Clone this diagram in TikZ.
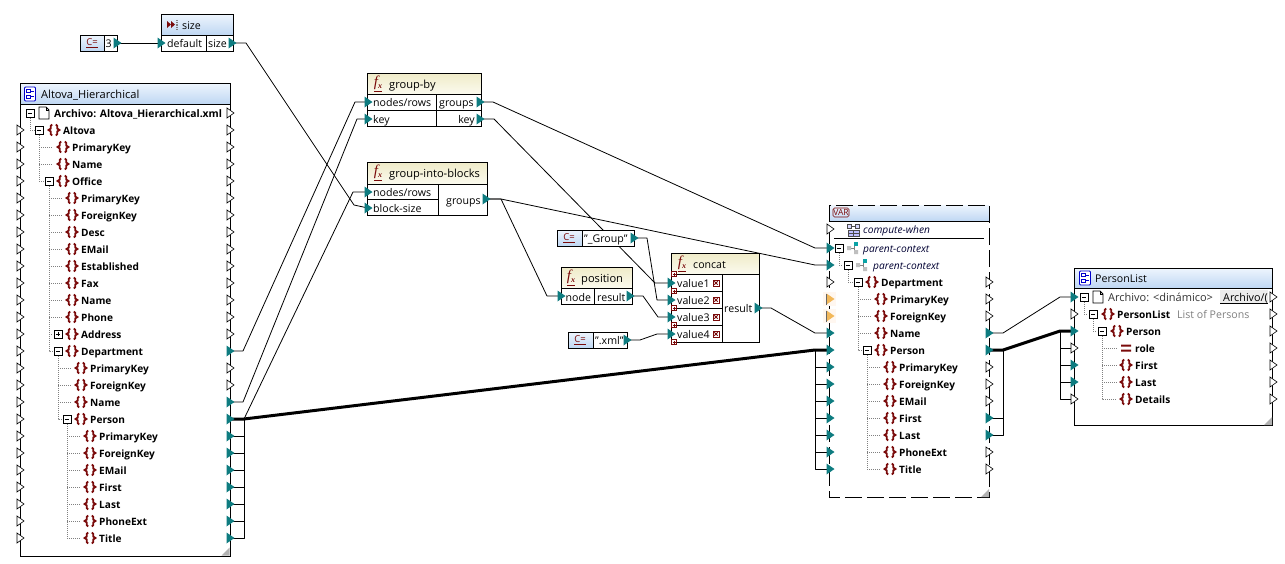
\documentclass[tikz,border=0pt]{standalone}
\usepackage{fontspec}
\setmainfont{Open Sans}
\newfontfamily\iconserif{Liberation Serif}
\definecolor{tealp}{HTML}{0E7C80}
\definecolor{brc}{HTML}{7A0A0A}
\definecolor{orgp}{HTML}{F2B85A}
\definecolor{hblueT}{HTML}{EEF5FD}
\definecolor{hblueB}{HTML}{BFD7F3}
\definecolor{hyelT}{HTML}{EFEBC8}
\definecolor{hyelB}{HTML}{FBFAEE}
\pgfdeclarelayer{back}
\pgfdeclarelayer{bg}
\pgfsetlayers{back,bg,main}
\tikzset{
  wire/.style={line width=0.8pt,black,line join=round},
  thickwire/.style={line width=3pt,black,line join=round},
  treeln/.style={line width=0.6pt,color=gray,dash pattern=on 1pt off 1pt},
  boxn/.style={anchor=north west,inner sep=0pt,outer sep=0pt,line width=1pt,fill=white,draw=black},
  rowb/.style={anchor=base west,inner sep=0pt,font=\fontsize{10.1}{12}\selectfont\bfseries,text=black},
  rowi/.style={anchor=base west,inner sep=0pt,font=\fontsize{10.2}{12}\selectfont\itshape,text=black!80!blue},
  lab/.style={anchor=base west,inner sep=0pt,font=\fontsize{10.6}{12}\selectfont,text=black},
  ttl/.style={anchor=base west,inner sep=0pt,font=\fontsize{11.1}{12}\selectfont,text=black},
  labe/.style={anchor=base east,inner sep=0pt,font=\fontsize{10.6}{12}\selectfont,text=black},
  portn/.style={inner sep=0pt,minimum size=0pt,outer sep=0pt},
  cicon/.style={inner sep=0pt,font=\fontsize{9.5}{10}\selectfont,text=brc},
  fxicon/.style={inner sep=0pt,font=\iconserif\fontsize{15}{15}\selectfont\itshape,text=brc},
}
\newcommand{\fxtext}{\underline{f\raisebox{-1.5pt}{\fontsize{8}{8}\selectfont\bfseries x}}}
\newcommand{\portF}[3]{\node[portn] (#1) at (#2,#3) {};
  \fill[tealp] (#2-3.5,#3-5.5) -- (#2+4.5,#3) -- (#2-3.5,#3+5.5) -- cycle;}
\newcommand{\portW}[3]{\node[portn] (#1) at (#2,#3) {};
  \draw[line width=0.6pt,fill=white] (#2-3,#3-5) -- (#2+4,#3) -- (#2-3,#3+5) -- cycle;}
\newcommand{\portO}[3]{\node[portn] (#1) at (#2,#3) {};
  \fill[orange!6] (#2-7,#3-7) rectangle (#2+6,#3+7);
  \fill[orgp] (#2-3.5,#3-5.5) -- (#2+4.5,#3) -- (#2-3.5,#3+5.5) -- cycle;
  \draw[line width=0.4pt,black!60] (#2-3.5,#3-5.5) -- (#2-3.5,#3+5.5);}
\newcommand{\exbox}[2]{\draw[line width=0.8pt,fill=white] (#1-4,#2-4) rectangle (#1+4,#2+4);
  \draw[line width=0.8pt] (#1-2.2,#2) -- (#1+2.2,#2);}
\newcommand{\plbox}[2]{\exbox{#1}{#2}\draw[line width=0.8pt] (#1,#2-2.2) -- (#1,#2+2.2);}
\newcommand{\brcicon}[2]{\draw[brc,line width=1.8pt,line join=miter]
   (#1-1.8,#2-5.5) -- (#1-3.2,#2-4.2) -- (#1-3.2,#2-1.5) -- (#1-5.4,#2) -- (#1-3.2,#2+1.5) -- (#1-3.2,#2+4.2) -- (#1-1.8,#2+5.5)
   (#1+1.8,#2-5.5) -- (#1+3.2,#2-4.2) -- (#1+3.2,#2-1.5) -- (#1+5.4,#2) -- (#1+3.2,#2+1.5) -- (#1+3.2,#2+4.2) -- (#1+1.8,#2+5.5);}
% element row: name, text x, y, text
\newcommand{\elrow}[4]{\brcicon{#2-9}{#3}\node[rowb] (#1) at (#2,#3+4) {#4};}
\newcommand{\docicon}[2]{\draw[line width=0.8pt,fill=white] (#1-5,#2-6) -- (#1+2,#2-6) -- (#1+5,#2-3) -- (#1+5,#2+6) -- (#1-5,#2+6) -- cycle;
   \draw[line width=0.5pt] (#1+2,#2-6) -- (#1+2,#2-3) -- (#1+5,#2-3);}
\newcommand{\treeicon}[2]{\draw[line width=0.8pt,color=gray] (#1-3,#2) -- (#1+1,#2) (#1+1,#2-4) -- (#1+1,#2+4);
   \fill[gray!50] (#1-6,#2-2) rectangle (#1-2,#2+2) (#1+1,#2+2) rectangle (#1+5,#2+6);
   \fill[tealp!70!cyan] (#1+1,#2-6) rectangle (#1+5,#2-2);}
\newcommand{\cmpicon}[2]{\draw[blue!80!black,line width=0.8pt,fill=white,rounded corners=1pt] (#1-5.5,#2-7) rectangle (#1+5.5,#2+7);
   \draw[blue!80!black,line width=0.8pt] (#1-3.5,#2-4.5) rectangle (#1,#2-1.5) (#1-3.5,#2+1) rectangle (#1,#2+4) (#1,#2-3) -- (#1+3.5,#2-3) (#1,#2+2.5) -- (#1+3.5,#2+2.5);}
\newcommand{\grip}[2]{\fill[gray!60] (#1,#2) -- (#1-8,#2) -- (#1,#2-8) -- cycle;}
\newcommand{\addicon}[2]{\draw[brc,line width=0.6pt,fill=white] (#1-2.6,#2-2.6) rectangle (#1+2.6,#2+2.6);
   \draw[brc,line width=0.6pt] (#1-1.5,#2) -- (#1+1.5,#2) (#1,#2-1.5) -- (#1,#2+1.5);}
\newcommand{\delicon}[2]{\draw[brc,line width=0.6pt,fill=white] (#1-3.2,#2-3.2) rectangle (#1+3.2,#2+3.2);
   \draw[brc,line width=0.9pt] (#1-1.7,#2-1.7) -- (#1+1.7,#2+1.7) (#1+1.7,#2-1.7) -- (#1-1.7,#2+1.7);}
% box: name,x1,y1,x2,y2
\newcommand{\cmpbox}[5]{\node[boxn,minimum width={#4-#2},minimum height={#5-#3}] (#1) at (#2,#3) {};}
\newcommand{\hdrfill}[6]{\shade[top color=#6T,bottom color=#6B] (#1,#2) rectangle (#3,#4);
  \draw[line width=1pt] (#1,#4) -- (#3,#4); \draw[line width=1pt] (#5.north west) rectangle (#5.south east);}
\begin{document}
\begin{tikzpicture}[x=1pt,y=-1pt]
\useasboundingbox (0,0) rectangle (1285,563);
\begin{pgfonlayer}{back}
\fill[white] (0,0) rectangle (1285,563);
\end{pgfonlayer}

%---------- const 3
\cmpbox{cthree}{80}{35}{117}{51}
\hdrfill{80}{35}{104}{51}{cthree}{hblue}
\draw[line width=1pt] (104,35) -- (104,51);
\node[cicon] (cthreei) at (92,43) {\underline{C=}};
\node[lab] (cthreet) at (105.5,47.5) {3};
\portF{pthree}{117}{43}

%---------- size
\cmpbox{sizeb}{161}{14}{233}{51}
\hdrfill{161}{14}{233}{35}{sizeb}{hblue}
\draw[line width=1pt] (206,35) -- (206,51);
\fill[brc] (167,21) -- (171,24.5) -- (167,28) -- cycle (171,21) -- (175,24.5) -- (171,28) -- cycle;
\draw[gray,line width=1.6pt,dash pattern=on 1pt off 0.8pt] (177,20) -- (177,30);
\node[lab] (sizet) at (182,29) {size};
\node[lab] (sized) at (167,47.5) {default};
\node[lab] (sizes) at (208,47.5) {size};
\portF{pdef}{161}{43}
\portF{psize}{232}{43}

%---------- source
\cmpbox{src}{20}{83}{230}{556}
\hdrfill{20}{83}{230}{104}{src}{hblue}
\cmpicon{30}{94}
\node[ttl] (srct) at (41,98) {Altova\_Hierarchical};
\draw[treeln] (30,118)--(30,130)--(35,130) (39,135)--(39,181)--(44,181) (39,147)--(53,147) (39,164)--(53,164)
  (49,186)--(49,351)--(53,351) (58,356)--(58,419)--(62,419) (67,424)--(67,538)--(80,538);
\foreach \y in {198,215,232,249,266,283,300,317} {\draw[treeln] (49,\y)--(62,\y);}
\draw[treeln] (49,334)--(53,334);
\foreach \y in {368,385,402} {\draw[treeln] (58,\y)--(71,\y);}
\foreach \y in {436,453,470,487,504,521} {\draw[treeln] (67,\y)--(80,\y);}
\exbox{30}{113}\docicon{44}{113}
\node[rowb,font=\fontsize{10.35}{12}\selectfont\bfseries] (sarch) at (54,117) {Archivo: Altova\_Hierarchical.xml};
\exbox{39}{130}\elrow{sa}{63}{130}{Altova}
\elrow{sb}{72}{147}{PrimaryKey}
\elrow{sc}{72}{164}{Name}
\exbox{49}{181}\elrow{sd}{72}{181}{Office}
\elrow{se}{81}{198}{PrimaryKey}
\elrow{sf}{81}{215}{ForeignKey}
\elrow{sg}{81}{232}{Desc}
\elrow{sh}{81}{249}{EMail}
\elrow{si}{81}{266}{Established}
\elrow{sj}{81}{283}{Fax}
\elrow{sk}{81}{300}{Name}
\elrow{sl}{81}{317}{Phone}
\plbox{58}{334}\elrow{sm}{81}{334}{Address}
\exbox{58}{351}\elrow{sn}{81}{351}{Department}
\elrow{so}{90}{368}{PrimaryKey}
\elrow{sp}{90}{385}{ForeignKey}
\elrow{sq}{90}{402}{Name}
\exbox{67}{419}\elrow{sr}{90}{419}{Person}
\elrow{ss}{99}{436}{PrimaryKey}
\elrow{st}{99}{453}{ForeignKey}
\elrow{su}{99}{470}{EMail}
\elrow{sv}{99}{487}{First}
\elrow{sw}{99}{504}{Last}
\elrow{sx}{99}{521}{PhoneExt}
\elrow{sy}{99}{538}{Title}
\grip{229.5}{555.5}
\foreach \y in {130,147,...,538} {\portW{sl\y}{20}{\y}}
\foreach \y in {113,130,...,334,368,385} {\portW{sr\y}{230}{\y}}
\foreach \y in {351,402,419,436,453,470,487,504,521,538} {\portF{sr\y}{230}{\y}}

%---------- group-by
\cmpbox{gb}{367}{73}{481}{126}
\hdrfill{367}{73}{481}{94}{gb}{hyel}
\draw[line width=1pt] (367,110) -- (481,110) (436,94) -- (436,126);
\node[fxicon] (gbi) at (378,84) {\fxtext};
\node[ttl] (gbt) at (389,88) {group-by};
\node[lab] (gbn) at (373,106.5) {nodes/rows};
\node[lab] (gbk) at (373,123) {key};
\node[lab] (gbg) at (439,106.5) {groups};
\node[labe] (gbkk) at (475,123) {key};
\portF{gbin}{368}{102}\portF{gbik}{368}{119}\portF{gbog}{480}{102}\portF{gbok}{480}{119}

%---------- group-into-blocks
\cmpbox{gib}{367}{162}{487}{215}
\hdrfill{367}{162}{487}{184}{gib}{hyel}
\draw[line width=1pt] (367,199) -- (438,199) (438,184) -- (438,215);
\node[fxicon] (gibi) at (378,173) {\fxtext};
\node[ttl] (gibt) at (389,177) {group-into-blocks};
\node[lab] (gibn) at (373,196) {nodes/rows};
\node[lab] (gibk) at (373,212) {block-size};
\node[lab] (gibg) at (446,204) {groups};
\portF{gibin}{368}{192}\portF{gibib}{368}{208}\portF{gibog}{486}{199}

%---------- _Group
\cmpbox{cgr}{557}{230}{634}{246}
\hdrfill{557}{230}{582}{246}{cgr}{hblue}
\draw[line width=1pt] (582,230) -- (582,246);
\node[cicon] (cgri) at (569,238) {\underline{C=}};
\node[lab] (cgrt) at (584,242.5) {"\_Group"};
\portF{pgroup}{634}{238}

%---------- position
\cmpbox{pos}{561}{267}{632}{304}
\hdrfill{561}{267}{632}{288}{pos}{hyel}
\draw[line width=1pt] (594,288) -- (594,304);
\node[fxicon] (posi) at (571,278) {\fxtext};
\node[ttl] (post) at (581,282) {position};
\node[lab] (posn) at (565.5,301) {node};
\node[lab] (posr) at (597,301) {result};
\portF{posin}{561}{296}\portF{posout}{630}{296}

%---------- .xml
\cmpbox{cxml}{568}{332}{627}{348}
\hdrfill{568}{332}{593}{348}{cxml}{hblue}
\draw[line width=1pt] (593,332) -- (593,348);
\node[cicon] (cxmli) at (580,340) {\underline{C=}};
\node[lab] (cxmlt) at (595,344.5) {".xml"};
\portF{pxml}{627}{340}

%---------- concat
\cmpbox{con}{671}{253}{759}{342}
\hdrfill{671}{253}{759}{274}{con}{hyel}
\draw[line width=1pt] (722,274) -- (722,342) (671,291) -- (722,291) (671,308) -- (722,308) (671,325) -- (722,325);
\node[fxicon] (coni) at (682,264) {\fxtext};
\node[lab] (cont) at (693,268) {concat};
\node[lab] (conva) at (677,287.5) {value1};
\node[lab] (convb) at (677,304.5) {value2};
\node[lab] (convc) at (677,321.5) {value3};
\node[lab] (convd) at (677,338.5) {value4};
\node[lab] (conr) at (724,312.5) {result};
\foreach \y in {283,300,317,334} {\delicon{716}{\y}}
\foreach \y in {274,291,308,325,342} {\addicon{674}{\y}}
\portF{cona}{671}{283}\portF{conb}{671}{300}\portF{conc}{671}{317}\portF{cond}{671}{334}\portF{conout}{758}{308}

%---------- VAR
\node[anchor=north west,inner sep=0pt,outer sep=0pt,fill=white,minimum width=160,minimum height=292] (var) at (829,205) {};
\shade[top color=hblueT,bottom color=hblueB] (829,205) rectangle (989,221);
\draw[line width=1pt] (829,221) -- (989,221);
\draw[line width=1pt,dash pattern=on 17pt off 5pt] (var.north west) rectangle (var.south east);
\draw[brc,line width=0.6pt,rounded corners=1.5pt] (833,208) rectangle (849,217);
\node[inner sep=0pt,font=\fontsize{8.5}{9}\selectfont,text=brc] (vart) at (841,212.5) {VAR};
\draw[line width=1pt] (834,238) -- (984,238);
\draw[treeln] (839,253)--(839,265)--(843,265) (848,270)--(848,282)--(853,282) (858,287)--(858,350)--(862,350) (867,355)--(867,469)--(881,469);
\foreach \y in {299,316,333} {\draw[treeln] (858,\y)--(872,\y);}
\foreach \y in {367,384,401,418,435,452} {\draw[treeln] (867,\y)--(881,\y);}
% compute-when icon
\draw[black!70,line width=0.7pt,fill=blue!15] (847.5,224) rectangle (851.5,228) (855.5,224) rectangle (859.5,228);
\draw[black!70,line width=0.7pt] (851.5,226) -- (855.5,226);
\draw[black!70,line width=0.7pt,fill=blue!25] (848,230) rectangle (859,236);
\draw[black!70,line width=0.5pt] (848,233) -- (859,233) (853.5,230) -- (853.5,236);
\node[rowi] (varcw) at (863,233) {compute-when};
\exbox{839}{248}\treeicon{853}{248}
\node[rowi] (varpa) at (863,252) {parent-context};
\exbox{848}{265}\treeicon{862}{265}
\node[rowi] (varpb) at (873,269) {parent-context};
\exbox{858}{282}\elrow{va}{881}{282}{Department}
\elrow{vb}{890}{299}{PrimaryKey}
\elrow{vc}{890}{316}{ForeignKey}
\elrow{vd}{890}{333}{Name}
\exbox{867}{350}\elrow{ve}{890}{350}{Person}
\elrow{vf}{899}{367}{PrimaryKey}
\elrow{vg}{899}{384}{ForeignKey}
\elrow{vh}{899}{401}{EMail}
\elrow{vi}{899}{418}{First}
\elrow{vj}{899}{435}{Last}
\elrow{vk}{899}{452}{PhoneExt}
\elrow{vl}{899}{469}{Title}
\grip{989}{497}
\portW{vl229}{830}{229}
\portF{vl248}{830}{248}\portF{vl265}{830}{265}
\portW{vl282}{830}{282}
\portO{vl299}{830}{299}\portO{vl316}{830}{316}
\foreach \y in {333,350,367,384,401,418,435,452,469} {\portF{vl\y}{830}{\y}}
\foreach \y in {282,299,316,367,384,401,452,469} {\portW{vr\y}{989}{\y}}
\foreach \y in {333,350,418,435} {\portF{vr\y}{989}{\y}}

%---------- PersonList
\cmpbox{pl}{1074}{268}{1272}{425}
\hdrfill{1074}{268}{1272}{288}{pl}{hblue}
\cmpicon{1085}{278}
\node[lab] (plt) at (1095,282) {PersonList};
\draw[treeln] (1084,302)--(1084,314)--(1088,314) (1093,319)--(1093,331)--(1097,331) (1102,336)--(1102,399)--(1117,399);
\foreach \y in {348,365,382} {\draw[treeln] (1102,\y)--(1117,\y);}
\exbox{1084}{297}\docicon{1098}{297}
\node[lab,font=\fontsize{11}{12}\selectfont,text=black!80] (plar) at (1108,301) {Archivo: <dinámico>};
\fill[gray!15] (1220,290) rectangle (1268,303);
\draw[line width=0.7pt] (1220,303) -- (1268,303);
\begin{scope}
\clip (1220,289) rectangle (1268,304);
\node[lab,font=\fontsize{10.8}{12}\selectfont] (plbtn) at (1223,301) {Archivo/(};
\end{scope}
\exbox{1093}{314}\elrow{pa}{1117}{314}{PersonList}
\node[lab,text=gray,font=\fontsize{10.6}{12}\selectfont] (pldesc) at (1177,318) {List of Persons};
\exbox{1102}{331}\elrow{pb}{1126}{331}{Person}
\fill[brc] (1121,344.5) rectangle (1131,346.5) (1121,349.5) rectangle (1131,351.5);
\node[rowb] (pc) at (1135,352) {role};
\elrow{pd}{1135}{365}{First}
\elrow{pe}{1135}{382}{Last}
\elrow{pf}{1135}{399}{Details}
\grip{1272}{425}
\portF{pl297}{1074}{297}\portW{pl314}{1074}{314}\portF{pl331}{1074}{331}\portW{pl348}{1074}{348}
\portF{pl365}{1074}{365}\portF{pl382}{1074}{382}\portW{pl399}{1074}{399}
\foreach \y in {297,314,...,399} {\portW{pr\y}{1273}{\y}}

%---------- connectors
\begin{pgfonlayer}{bg}
\draw[wire] (pthree) -- (pdef);
\draw[wire] (psize) -- (246,43) -- (354,205) -- (gibib);
\draw[wire] (sr351) -- (243,351) -- (355,102) -- (gbin);
\draw[wire] (sr402) -- (243,402) -- (357,119) -- (gbik);
\draw[wire] (sr419) -- (244,419) -- (353,192) -- (gibin);
\draw[thickwire] (sr419) -- (244,419) -- (815,350) -- (vl350);
\foreach \y in {436,453,470,487,504,521,538} {\draw[wire] (sr\y) -- (244,\y) -- (244,419);}
\draw[wire] (gbog) -- (493,102) -- (815,248) -- (vl248);
\draw[wire] (gbok) -- (494,119) -- (655,283) -- (cona);
\draw[wire] (gibog) -- (501,199) -- (815,265) -- (vl265);
\draw[wire] (gibog) -- (501,199) -- (547,296) -- (posin);
\draw[wire] (pgroup) -- (647,238) -- (657,300) -- (conb);
\draw[wire] (posout) -- (643,296) -- (658,317) -- (conc);
\draw[wire] (pxml) -- (640,340) -- (657,334) -- (cond);
\draw[wire] (conout) -- (771,308) -- (815,333) -- (vl333);
\foreach \y in {367,384,401,418,435,452,469} {\draw[wire] (vl\y) -- (815,\y) -- (815,350);}
\draw[wire] (vr333) -- (1003,333) -- (1060,297) -- (pl297);
\draw[thickwire] (vr350) -- (1003,350) -- (1060,331) -- (pl331);
\foreach \y in {418,435} {\draw[wire] (vr\y) -- (1003,\y) -- (1003,350);}
\foreach \y in {348,365,382,399} {\draw[wire] (pl\y) -- (1060,\y) -- (1060,331);}
\end{pgfonlayer}
\end{tikzpicture}
\end{document}
